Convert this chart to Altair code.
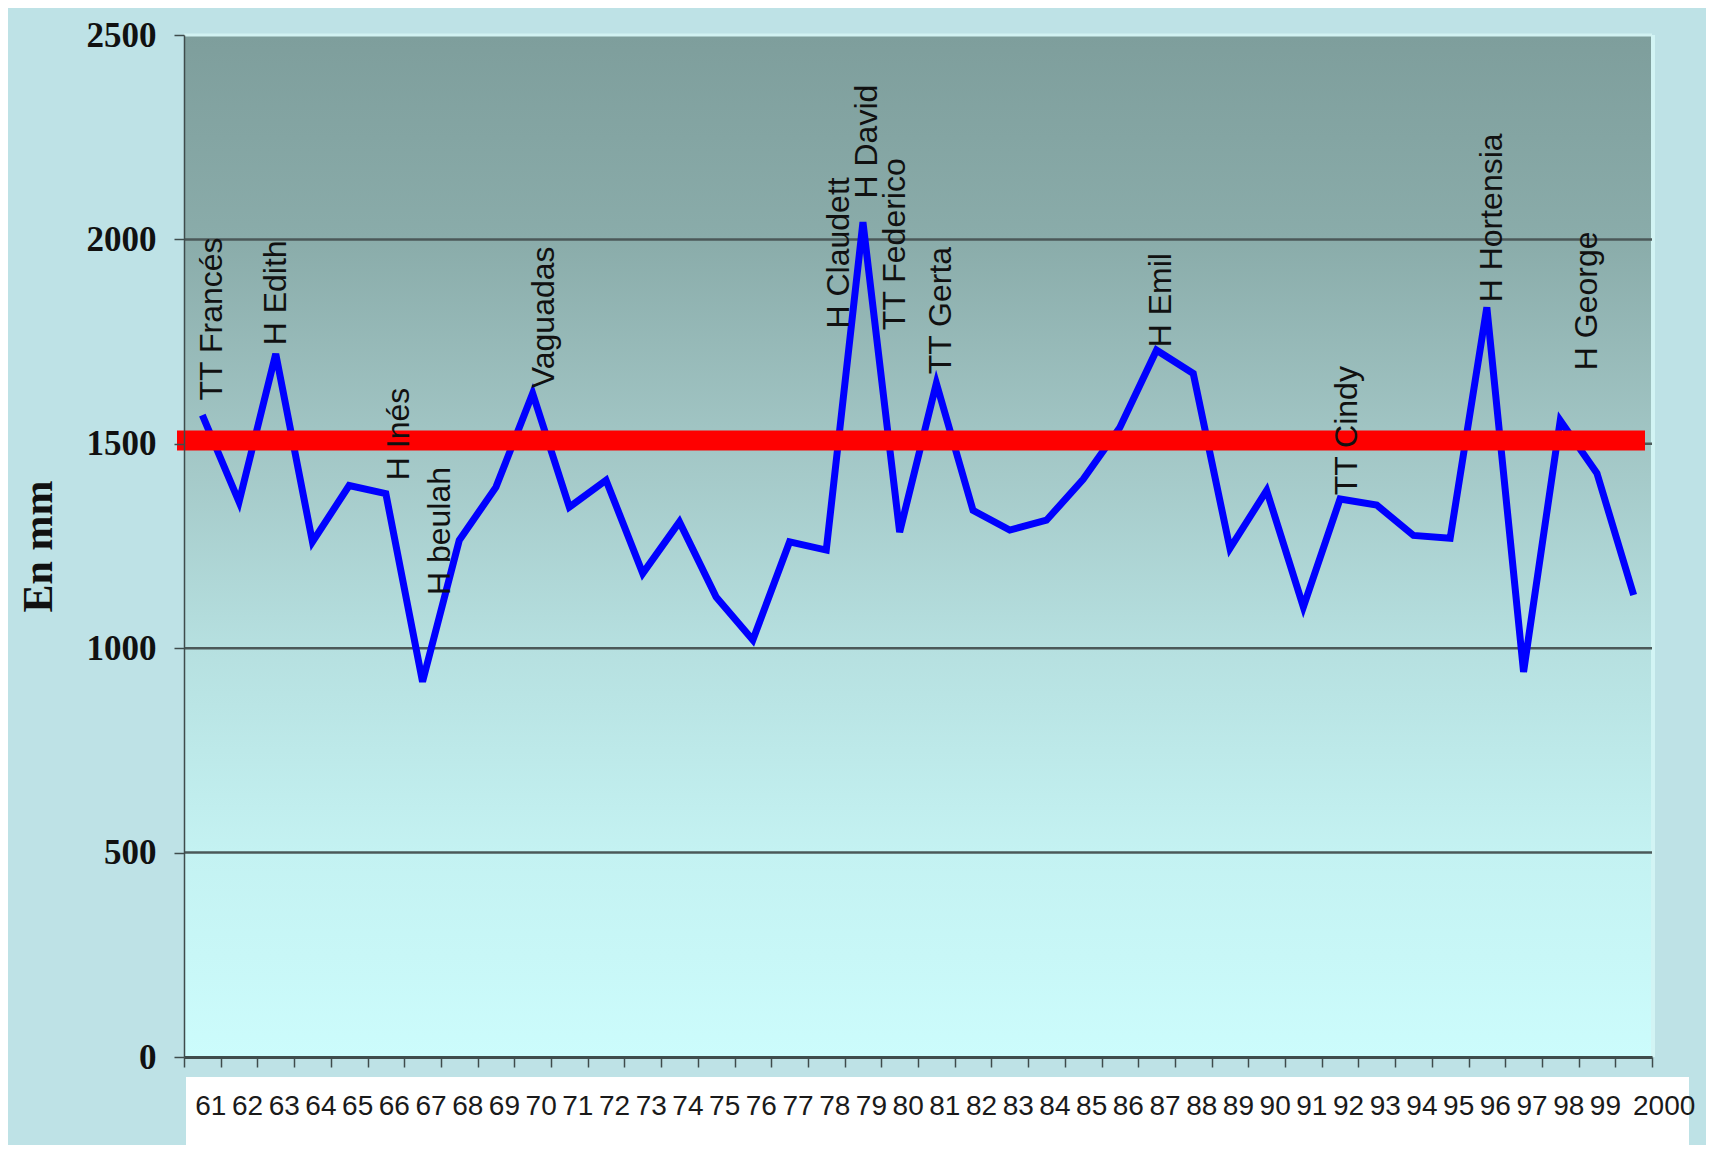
import altair as alt
import pandas as pd

# ---- data ----
year_labels = ["61", "62", "63", "64", "65", "66", "67", "68", "69", "70",
               "71", "72", "73", "74", "75", "76", "77", "78", "79", "80",
               "81", "82", "83", "84", "85", "86", "87", "88", "89", "90",
               "91", "92", "93", "94", "95", "96", "97", "98", "99", "2000"]
rain_mm = [1570, 1358, 1720, 1260, 1398, 1378, 918, 1264, 1394, 1623,
           1345, 1411, 1183, 1309, 1125, 1020, 1260, 1240, 2042, 1284,
           1648, 1337, 1289, 1313, 1413, 1540, 1729, 1672, 1244, 1386,
           1101, 1365, 1350, 1276, 1269, 1834, 942, 1557, 1428, 1130]
mean_mm = [1508]
grid_mm = [500, 1000, 1500, 2000]
y_ticks = [0, 500, 1000, 1500, 2000, 2500]

event_names = ["TT Francés", "H Edith", "H Inés", "H beulah", "Vaguadas",
               "H Claudett", "H David", "TT Federico", "TT Gerta", "H Emil",
               "TT Cindy", "H Hortensia", "H George"]
event_pos = [0.25, 2.0, 5.36, 6.48, 9.3, 17.36, 18.1, 18.86, 20.14, 26.12,
             31.2, 35.14, 37.73]
event_mm = [1606, 1741, 1411, 1130, 1636, 1782, 2100, 1778, 1670, 1736,
            1374, 1846, 1680]

W, H = 1468, 1022
DARK = "#3f4c4c"

df = pd.DataFrame({"yr": year_labels, "mm": rain_mm})
df_grid = pd.DataFrame({"mm": grid_mm})
df_mean = pd.DataFrame({"mm": mean_mm})
df_ev = pd.DataFrame({"name": event_names, "pos": event_pos, "mm": event_mm})
one = alt.Data(values=[{"a": 1}])

y_scale = alt.Scale(domain=[0, 2500], nice=False, zero=True)
y_axis = alt.Axis(
    values=y_ticks, title="En mm", grid=False, format="d",
    labelFont="Liberation Serif", labelFontWeight="bold", labelFontSize=35,
    labelColor="#111111", labelPadding=18,
    tickSize=10, tickColor=DARK, tickWidth=1.5,
    domainColor=DARK, domainWidth=1.5,
    titleFont="Liberation Serif", titleFontWeight="bold", titleFontSize=42,
    titleColor="#111111", titleAngle=270, titleX=-146, titleY=H / 2,
    titleAlign="center", titleBaseline="middle", zindex=1,
)
Y = alt.Y("mm:Q", scale=y_scale, axis=y_axis)

strip = alt.Chart(one).mark_rect(color="white").encode(
    x=alt.value(2), x2=alt.value(1505), y=alt.value(1042), y2=alt.value(1140)
)

grad = alt.Chart(one).mark_rect(
    fill=alt.Gradient(
        gradient="linear",
        stops=[
            alt.GradientStop(offset=0, color="#7e9e9c"),
            alt.GradientStop(offset=0.2, color="#8aacaa"),
            alt.GradientStop(offset=0.4, color="#a2c6c5"),
            alt.GradientStop(offset=0.6, color="#b6e0e0"),
            alt.GradientStop(offset=0.8, color="#c4f2f2"),
            alt.GradientStop(offset=1, color="#ccfcfc"),
        ],
        x1=0, x2=0, y1=0, y2=1,
    )
).encode(x=alt.value(0), x2=alt.value(W), y=alt.value(0), y2=alt.value(H))

top_edge = alt.Chart(one).mark_rule(color="#d2f2f2", strokeWidth=3).encode(
    x=alt.value(0), x2=alt.value(W), y=alt.value(0)
)
right_edge = alt.Chart(one).mark_rule(color="#d2f4f4", strokeWidth=4).encode(
    x=alt.value(W + 1), y=alt.value(0), y2=alt.value(H)
)

grid = alt.Chart(df_grid).mark_rule(color="#4b5858", strokeWidth=2.5).encode(y=Y)

line = alt.Chart(df).mark_line(color="#0000ff", strokeWidth=7).encode(
    x=alt.X(
        "yr:O", sort=year_labels,
        scale=alt.Scale(type="band", paddingInner=0, paddingOuter=0),
        axis=alt.Axis(
            title=None, tickBand="extent", labelAngle=0, labelOverlap=False,
            labelFont="Liberation Sans", labelFontSize=28,
            labelColor="#1a1a1a", labelPadding=25,
            labelOffset={"condition": {"test": "datum.value == '2000'", "value": 30},
                         "value": 8},
            tickSize=10, tickColor=DARK, tickWidth=1.5,
            domainColor=DARK, domainWidth=3, grid=False, zindex=1,
        ),
    ),
    y=Y,
)

mean_rule = alt.Chart(df_mean).mark_rule(color="#fe0000", strokeWidth=20).encode(
    y=Y, x=alt.value(-7), x2=alt.value(1461)
)

labels = alt.Chart(df_ev).mark_text(
    angle=270, align="left", baseline="middle",
    font="Liberation Sans", fontSize=32, color="#111111",
).encode(
    x=alt.X("pos:Q", scale=alt.Scale(domain=[-0.5, 39.5], nice=False, zero=False), axis=None),
    y=Y,
    text="name:N",
)

chart = alt.layer(
    strip, grad, top_edge, right_edge, grid, line, mean_rule, labels
).resolve_scale(x="independent").properties(
    width=W, height=H,
    padding={"left": 176, "top": 27, "right": 54, "bottom": 88},
    autosize=alt.AutoSizeParams(type="none"),
    background="#bee2e6",
).configure_view(stroke=None)

chart.save("out.html", embed_options={"renderer": "svg", "actions": False})
